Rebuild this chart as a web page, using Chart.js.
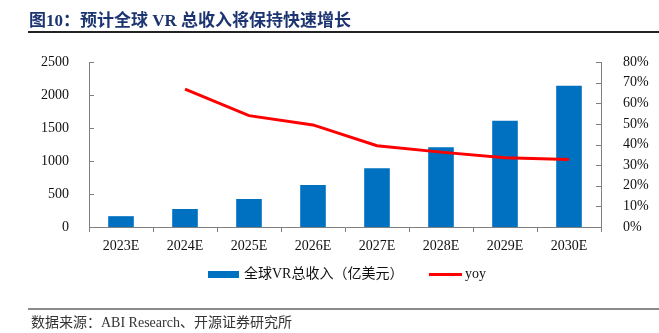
<!DOCTYPE html>
<html>
<head>
<meta charset="utf-8">
<script src="https://cdn.jsdelivr.net/npm/chart.js@4/dist/chart.umd.min.js"></script>
<style>
  html, body { margin: 0; padding: 0; background: #fff; }
  body { width: 659px; height: 333px; position: relative; overflow: hidden; }
  #wrap { position: absolute; left: 0; top: 0; width: 659px; height: 333px; }
  .title { position: absolute; left: 29px; top: 6px; font-family: "Liberation Serif", "Noto Sans CJK SC", serif; font-weight: bold; font-size: 17px; color: #1c3470; white-space: nowrap; }
  .rule-top { position: absolute; left: 28px; right: 0; top: 31px; height: 1.5px; background: #222; }
  .rule-bottom { position: absolute; left: 28px; right: 0; top: 308px; height: 1.5px; background: #8a8a8a; }
  .source { position: absolute; left: 31px; top: 311px; font-family: "Liberation Serif", "Noto Sans CJK SC", serif; font-size: 14px; color: #333; white-space: nowrap; }
  .legend { position: absolute; top: 265px; left: 208px; font-family: "Liberation Serif", "Noto Sans CJK SC", serif; font-size: 14px; color: #111; white-space: nowrap; height: 18px; }
  .legend span { position: absolute; top: 0; line-height: 18px; }
  .swatch-bar { position: absolute; width: 31px; height: 7px; background: #0070c0; top: 6px; }
  .swatch-line { position: absolute; width: 33px; height: 2.5px; background: #ff0000; top: 8px; }
</style>
</head>
<body>
<div id="wrap"><canvas id="c" width="659" height="333"></canvas></div>
<div class="title">图10：预计全球 VR 总收入将保持快速增长</div>
<div class="rule-top"></div>
<div class="legend">
  <div class="swatch-bar" style="left:0"></div>
  <span style="left:36px">全球VR总收入（亿美元）</span>
  <div class="swatch-line" style="left:221px"></div>
  <span style="left:257px">yoy</span>
</div>
<div class="rule-bottom"></div>
<div class="source">数据来源：ABI Research、开源证券研究所</div>
<script>
// Years shown on the category axis
const categories = ['2023E', '2024E', '2025E', '2026E', '2027E', '2028E', '2029E', '2030E'];
// Global VR revenue, 100 million USD
const revenue = [164, 273, 424, 636, 889, 1207, 1611, 2141];
// Year-over-year growth, percent
const yoy = [null, 66.8, 54.0, 49.5, 39.4, 36.3, 33.6, 32.7];
// Axis tick values
const revenueTicks = [0, 500, 1000, 1500, 2000, 2500];
const yoyTicks = [0, 10, 20, 30, 40, 50, 60, 70, 80];

const AXIS = '#808080';
const tickFont = { family: '"Liberation Serif", "Times New Roman", serif', size: 14 };

// Small tick marks pointing into the plot on both value axes
const innerTicks = {
  id: 'innerTicks',
  afterDatasetsDraw(chart) {
    const ctx = chart.ctx;
    ctx.save();
    ctx.strokeStyle = AXIS;
    ctx.lineWidth = 1;
    const yl = chart.scales.y, yr = chart.scales.y1;
    revenueTicks.forEach(v => {
      const p = Math.round(yl.getPixelForValue(v)) + 0.5;
      ctx.beginPath(); ctx.moveTo(yl.right, p); ctx.lineTo(yl.right + 5, p); ctx.stroke();
    });
    yoyTicks.forEach(v => {
      const p = Math.round(yr.getPixelForValue(v)) + 0.5;
      ctx.beginPath(); ctx.moveTo(yr.left, p); ctx.lineTo(yr.left - 5, p); ctx.stroke();
    });
    ctx.restore();
  }
};

new Chart(document.getElementById('c'), {
  data: {
    labels: categories,
    datasets: [
      {
        type: 'line',
        label: 'yoy',
        data: yoy,
        yAxisID: 'y1',
        borderColor: '#ff0000',
        borderWidth: 3,
        pointRadius: 0,
        tension: 0,
        spanGaps: false,
        order: 0
      },
      {
        type: 'bar',
        label: '全球VR总收入（亿美元）',
        data: revenue,
        yAxisID: 'y',
        backgroundColor: '#0070c0',
        categoryPercentage: 1,
        barPercentage: 0.4,
        order: 1
      }
    ]
  },
  options: {
    responsive: false,
    animation: false,
    layout: { padding: { top: 62, left: 0, right: 0, bottom: 0 } },
    plugins: { legend: { display: false }, tooltip: { enabled: false } },
    scales: {
      x: {
        offset: true,
        grid: { offset: true, drawOnChartArea: false, tickLength: 5, color: AXIS },
        border: { display: true, color: AXIS },
        ticks: { font: tickFont, color: '#111', padding: 6, maxRotation: 0 },
        afterFit(scale) { scale.height = 106; }
      },
      y: {
        position: 'left',
        min: 0, max: 2500,
        grid: { display: false },
        border: { display: true, color: AXIS },
        ticks: { stepSize: 500, font: tickFont, color: '#111', padding: 12, callback: v => String(v) },
        afterFit(scale) { scale.width = 89; }
      },
      y1: {
        position: 'right',
        min: 0, max: 80,
        grid: { display: false },
        border: { display: true, color: AXIS },
        ticks: { stepSize: 10, font: tickFont, color: '#111', padding: 14, callback: v => v + '%' },
        afterFit(scale) { scale.width = 58; }
      }
    }
  },
  plugins: [innerTicks]
});
</script>
</body>
</html>
